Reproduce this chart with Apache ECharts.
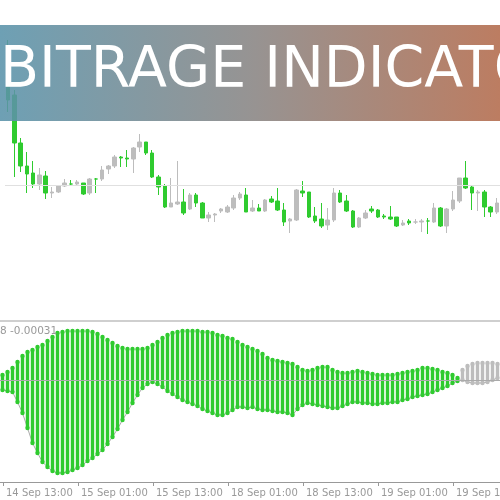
<!DOCTYPE html>
<html>
<head>
<meta charset="utf-8">
<script src="https://cdn.jsdelivr.net/npm/echarts@6/dist/echarts.min.js"></script>
<style>html,body{margin:0;padding:0;background:#fff}#main{width:500px;height:500px}</style>
</head>
<body>
<div id="main"></div>
<script>
// price pane values are in screen-ish units (inverted axis), [open, close, low, high]
var candles = [
	[60,100,40,112],[95,143,90,177],[143,166,138,172],[166,174,152,193],[173,184,161,188],
	[184,175,168,190],[176,193,171,199],[193,192,187,198],[192,186,185,193],[186,183,179,187],
	[184,184,180,186],[184,182,180,185],[183,194,183,195],[193,179,178,195],[179,179,178,193],
	[179,170,166,181],[169,166,165,174],[166,157,155,168],[157,158,156,167],[158,159,150,167],
	[159,148,147,173],[147,142,134,152],[142,153,142,155],[153,177,150,178],[177,187,175,195],
	[186,207,184,208],[207,203,178,207],[204,202,161,205],[202,213,189,215],[209,195,193,210],
	[195,203,193,207],[203,218,202,218],[218,215,212,222],[215,214,213,222],[211,209,208,213],
	[212,207,205,213],[208,198,195,210],[198,194,192,200],[195,212,188,212],[211,208,200,212],
	[208,211,204,211],[211,200,199,212],[199,202,196,203],[201,210,188,211],[210,222,203,226],
	[221,219,218,233],[220,190,189,221],[191,193,181,197],[192,217,192,218],[216,221,207,223],
	[219,226,203,228],[225,220,208,230],[220,193,188,222],[193,202,190,203],[201,211,195,212],
	[211,227,210,228],[227,218,217,228],[218,213,210,219],[209,211,206,213],[210,217,209,218],
	[216,217,214,219],[217,219,206,220],[217,226,217,227],[225,223,220,226],[221,223,219,225],
	[222,222,219,224],[222,221,219,232],[221,221,218,234],[222,208,203,223],[208,226,207,227],
	[226,209,208,233],[209,200,191,211],[201,178,178,203],[178,188,161,189],[187,193,185,210],
	[193,192,190,211],[192,207,190,217],[207,212,206,217],[212,203,198,214]
];
// indicator histogram: upper and lower ends of each bar (same inverted units)
var histTop = [
	375,372,368,362,356,352,350,347,345,341,
	337,333,332,331,331,331,331,331,332,334,
	337,340,343,346,348,349,349,349,349,348,
	345,342,338,335,333,332,331,331,331,331,
	332,332,333,335,336,338,339,342,345,347,
	349,351,354,358,360,361,362,363,364,367,
	370,371,370,368,367,367,370,372,373,373,
	372,371,372,373,374,375,375,375,375,374,
	373,372,371,370,368,368,369,370,372,373,
	375,378,370,366,364,363,363,363,363,364
];
var histBottom = [
	390,391,392,402,413,428,443,453,462,467,
	471,473,473,472,470,468,465,461,458,454,
	450,444,437,429,420,412,403,395,388,384,
	382,384,387,391,394,397,400,402,404,406,
	409,411,413,415,415,413,410,407,407,408,
	407,409,410,410,411,412,412,413,415,409,
	405,403,404,405,406,407,408,408,406,404,
	402,402,403,403,404,404,403,403,402,402,
	400,399,397,396,395,394,392,390,388,386,
	383,381,380,382,383,383,383,382,380,378
];
var greenCount = 92;
var timeLabels = ['14 Sep 13:00','15 Sep 01:00','15 Sep 13:00','18 Sep 01:00','18 Sep 13:00','19 Sep 01:00','19 Sep 13:00'];
var tickPos = [3,78,153,228,303,378,453];
var title = 'ARBITRAGE INDICATOR';

var green = '#2fcb2f';
var gray = '#bdbdbd';

var candleCats = [];
for (var i=0;i<candles.length;i++) candleCats.push(i);
var histCats = [];
var histData = [];
for (var k=0;k<histTop.length;k++){
	histCats.push(k);
	histData.push([k, histTop[k], histBottom[k]]);
}

// shift the title so that "AR" falls off the left edge
var titleFont = '57px "DejaVu Sans"';
var ctx = document.createElement('canvas').getContext('2d');
ctx.font = titleFont;
var arW = ctx.measureText('AR').width;

var myChart = echarts.init(document.getElementById('main'));
var option = {
	animation: false,
	backgroundColor: '#fff',
	grid: [
		{left: 5, right: 0, top: 0, height: 320, outerBoundsMode: 'none'},
		{left: 0, right: 0, top: 322, height: 160, outerBoundsMode: 'none'}
	],
	xAxis: [
		{type: 'category', gridIndex: 0, data: candleCats, show: false},
		{type: 'category', gridIndex: 1, data: histCats, show: false},
		{type: 'value', gridIndex: 1, min: 0, max: 500, position: 'bottom',
			splitLine: {show: false},
			axisLine: {show: true, lineStyle: {color: '#999', width: 1}},
			axisTick: {show: true, length: 4, customValues: tickPos, lineStyle: {color: '#999'}},
			axisLabel: {customValues: tickPos, align: 'left', margin: 6, color: '#999',
				fontSize: 10, fontFamily: 'DejaVu Sans', padding: [0, 0, 0, 3],
				formatter: function(v){ return timeLabels[tickPos.indexOf(v)] || ''; }}
		}
	],
	yAxis: [
		{type: 'value', gridIndex: 0, min: 0, max: 320, inverse: true, show: false, splitLine: {show: false}},
		{type: 'value', gridIndex: 1, min: 322, max: 482, inverse: true, show: false, splitLine: {show: false}}
	],
	series: [
		{
			type: 'candlestick', xAxisIndex: 0, yAxisIndex: 0,
			data: candles, barWidth: 4,
			itemStyle: {color: green, color0: gray, borderColor: green, borderColor0: gray, borderWidth: 1},
			markLine: {silent: true, symbol: 'none', label: {show: false},
				lineStyle: {color: '#e0e0e0', type: 'solid', width: 1}, data: [{yAxis: 185}]}
		},
		{
			type: 'line', xAxisIndex: 1, yAxisIndex: 1, data: histBottom, symbol: 'none',
			lineStyle: {color: '#aaa', width: 1}, z: 1,
			markLine: {silent: true, symbol: 'none', label: {show: false},
				lineStyle: {color: '#aaa', type: 'solid', width: 1}, data: [{yAxis: 380}]}
		},
		{
			type: 'custom', xAxisIndex: 1, yAxisIndex: 1, data: histData, z: 3,
			renderItem: function(params, api){
				var i = api.value(0);
				var p1 = api.coord([i, api.value(1)]);
				var p2 = api.coord([i, api.value(2)]);
				var c = i < greenCount ? green : gray;
				var w = 3.4;
				return {type: 'group', children: [
					{type: 'rect', shape: {x: p1[0]-w/2, y: p1[1], width: w, height: p2[1]-p1[1]}, style: {fill: c}},
					{type: 'circle', shape: {cx: p1[0], cy: p1[1], r: 2.2}, style: {fill: c}},
					{type: 'circle', shape: {cx: p2[0], cy: p2[1], r: 2.2}, style: {fill: c}}
				]};
			}
		}
	],
	graphic: [
		{type: 'rect', left: 0, top: 320, shape: {width: 500, height: 2}, style: {fill: '#cfcfcf'}, z: 10},
		{type: 'text', left: 0, top: 326, style: {text: '8 -0.00031', fill: '#999', fontSize: 10.5, fontFamily: 'DejaVu Sans'}, z: 10},
		{type: 'rect', left: 0, top: 25, shape: {width: 500, height: 96}, z: 20,
			style: {opacity: 0.88, fill: new echarts.graphic.LinearGradient(0, 0, 1, 0, [
				{offset: 0, color: '#5a93aa'}, {offset: 0.5, color: '#888584'}, {offset: 1, color: '#b36b4c'}])}},
		{type: 'text', x: -arW, y: 72, z: 21,
			style: {text: title, fill: '#fff', font: titleFont, verticalAlign: 'middle'}}
	]
};
myChart.setOption(option);
</script>
</body>
</html>
